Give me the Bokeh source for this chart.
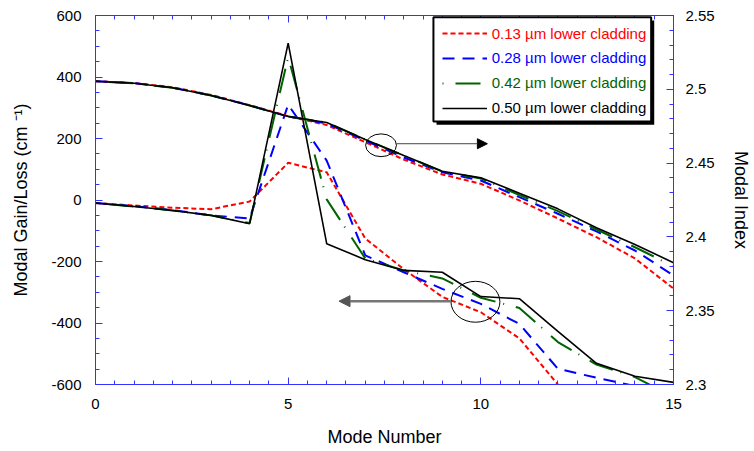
from bokeh.plotting import figure
from bokeh.models import (Range1d, LinearAxis, SingleIntervalTicker, NumeralTickFormatter,
                          Legend, LegendItem, Arrow, NormalHead, BoxAnnotation)
from bokeh.embed import file_html
from bokeh.resources import INLINE

# ---------------- data ----------------
mode = list(range(16))

legend_labels = ["0.13 \u00b5m lower cladding", "0.28 \u00b5m lower cladding",
                 "0.42 \u00b5m lower cladding", "0.50 \u00b5m lower cladding"]

# modal gain/loss (cm^-1), left axis
gain_013 = [-10, -18, -25, -30, -5, 121, 90, -125, -225, -315, -365, -450, -600]
gain_028 = [-10, -20, -33, -50, -60, 310, 128, -180, -235, -289, -338, -403, -549, -578, -605]
gain_042 = [-10, -21, -34, -50, -75, 465, 2, -190, -229, -255, -318, -351, -462, -535, -576, -640]
gain_050 = [-10, -21, -34, -50, -77, 510, -142, -194, -229, -235, -314, -321, -427, -531, -573, -593]

# modal index, right axis
idx_013 = [2.5055, 2.5043, 2.5014, 2.4962, 2.4893, 2.4818, 2.4758, 2.4642, 2.4524, 2.4423,
           2.4360, 2.4247, 2.4125, 2.3998, 2.3854, 2.3650]
idx_028 = [2.5055, 2.5042, 2.5011, 2.4959, 2.4891, 2.4816, 2.4768, 2.4653, 2.4538, 2.4438,
           2.4382, 2.4269, 2.4157, 2.4037, 2.3908, 2.3739]
idx_042 = [2.5055, 2.5041, 2.5010, 2.4958, 2.4890, 2.4816, 2.4775, 2.4660, 2.4551, 2.4443,
           2.4396, 2.4284, 2.4175, 2.4050, 2.3930, 2.3801]
idx_050 = [2.5055, 2.5041, 2.5010, 2.4958, 2.4890, 2.4816, 2.4775, 2.4660, 2.4551, 2.4445,
           2.4400, 2.4296, 2.4190, 2.4062, 2.3949, 2.3825]

gains = [gain_013, gain_028, gain_042, gain_050]
idxs = [idx_013, idx_028, idx_042, idx_050]

top_tick_values = [0, 5, 10, 15]

# ---------------- style ----------------
COLORS = ["#ff0000", "#0000ff", "#006400", "#000000"]
DASHES = ["5 3", "12 8", "1 12 25 8", "solid"]
WIDTHS = [2, 2, 2, 1.6]
AXIS_BLUE = "#3333ff"
FONT = "Liberation Sans"

p = figure(width=754, height=451, output_backend="svg", toolbar_location=None,
           x_range=Range1d(0, 15), y_range=Range1d(-600, 600),
           min_border_left=95, min_border_right=81, min_border_top=15, min_border_bottom=67)
# tiny margin on the end so that the 2.55 tick (float) is kept
p.extra_y_ranges = {"idx": Range1d(2.3, 2.5500001)}
p.xgrid.visible = False
p.ygrid.visible = False
p.outline_line_color = AXIS_BLUE
p.background_fill_color = "white"
p.border_fill_color = "white"


def style_axis(ax):
    ax.axis_line_color = AXIS_BLUE
    ax.major_tick_line_color = AXIS_BLUE
    ax.minor_tick_line_color = AXIS_BLUE
    ax.major_tick_in = 7
    ax.major_tick_out = 0
    ax.minor_tick_in = 4
    ax.minor_tick_out = 0
    ax.major_label_text_font = FONT
    ax.major_label_text_font_size = "15px"
    ax.major_label_text_color = "black"
    ax.axis_label_text_font = FONT
    ax.axis_label_text_font_size = "18px"
    ax.axis_label_text_font_style = "normal"
    ax.axis_label_text_color = "black"


xa = p.xaxis[0]
xa.ticker = SingleIntervalTicker(interval=5, num_minor_ticks=10)
xa.axis_label = "Mode Number"
style_axis(xa)
xa.major_label_standoff = 14
xa.axis_label_standoff = 15

ya = p.yaxis[0]
ya.ticker = SingleIntervalTicker(interval=200, num_minor_ticks=4)
ya.formatter = NumeralTickFormatter(format="0")
ya.axis_label = "Modal Gain/Loss (cm \u207b\u00b9)"
style_axis(ya)
ya.major_label_standoff = 14
ya.axis_label_standoff = 17

ra = LinearAxis(y_range_name="idx",
                ticker=SingleIntervalTicker(interval=0.05, num_minor_ticks=5),
                formatter=NumeralTickFormatter(format="0.0[0]"),
                axis_label="Modal Index")
style_axis(ra)
ra.major_label_standoff = 12
ra.axis_label_standoff = 13
p.add_layout(ra, "right")

ta = LinearAxis(ticker=SingleIntervalTicker(interval=5, num_minor_ticks=10))
style_axis(ta)
ta.major_label_overrides = {v: "" for v in top_tick_values}
ta.major_label_standoff = 0
p.add_layout(ta, "above")

# ---------------- curves ----------------
gain_renderers = []
for g, c, d, w in zip(gains, COLORS, DASHES, WIDTHS):
    r = p.line(mode[:len(g)], g, line_color=c, line_dash=d, line_width=w)
    gain_renderers.append(r)
for ix, c, d, w in zip(idxs, COLORS, DASHES, WIDTHS):
    p.line(mode[:len(ix)], ix, line_color=c, line_dash=d, line_width=w, y_range_name="idx")

# ---------------- annotations (ellipses + arrows) ----------------
p.ellipse(x=[7.41], y=[178], width=[0.8], height=[74], fill_color=None,
          line_color="black", line_width=1)
p.ellipse(x=[9.86], y=[-331], width=[1.27], height=[133], fill_color=None,
          line_color="black", line_width=1)
p.add_layout(Arrow(x_start=7.81, y_start=183, x_end=10.17, y_end=183,
                   line_color="#444444", line_width=1,
                   end=NormalHead(size=10, fill_color="black", line_color="black")))
p.add_layout(Arrow(x_start=9.22, y_start=-329, x_end=6.32, y_end=-329,
                   line_color="#777777", line_width=2.5,
                   end=NormalHead(size=11, fill_color="#555555", line_color="#555555")))

# ---------------- legend ----------------
p.add_layout(BoxAnnotation(left=8.85, right=14.50, top=584, bottom=245,
                           fill_color="black", fill_alpha=1, line_color=None))
p.add_layout(BoxAnnotation(left=8.77, right=14.42, top=594, bottom=255,
                           fill_color="white", fill_alpha=1, line_color="black",
                           line_width=2, line_alpha=1))
legend_offsets = [340.7, 316.3, 291.3, 266.3]
for lab, r, c, vy in zip(legend_labels, gain_renderers, COLORS, legend_offsets):
    lg = Legend(items=[LegendItem(label=lab, renderers=[r])], location=(346.7, vy),
                margin=0, padding=0, spacing=0, label_standoff=5,
                glyph_width=45, glyph_height=20, label_height=20,
                border_line_color=None, background_fill_alpha=0,
                label_text_font=FONT, label_text_font_size="15px", label_text_color=c)
    p.add_layout(lg, "center")

open("out.html", "w").write(file_html(p, INLINE))
